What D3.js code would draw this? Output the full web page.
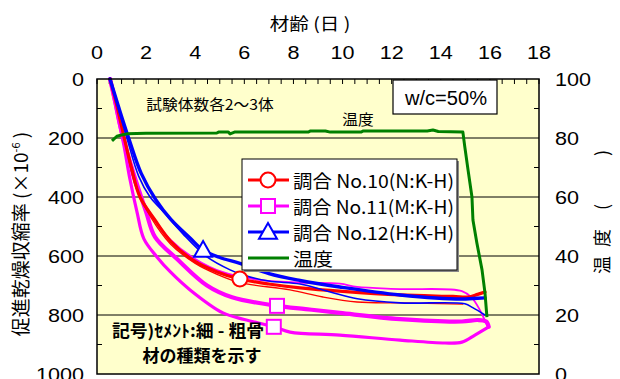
<!DOCTYPE html>
<html>
<head>
<meta charset="utf-8">
<script src="https://cdn.jsdelivr.net/npm/d3@7"></script>
<style>
  body { margin: 0; background: #fff; }
  text { font-family: "Liberation Sans", Arial, sans-serif; fill: #000; }
  .jp { font-family: "Noto Sans CJK JP", sans-serif; }
</style>
</head>
<body>
<svg id="chart" width="620" height="379"></svg>
<script>
// Axis ticks
const ageTicks = [0, 2, 4, 6, 8, 10, 12, 14, 16, 18];
const strainTicks = [0, 200, 400, 600, 800, 1000];
const tempTicks = [0, 20, 40, 60, 80, 100];

// Accelerated drying shrinkage, [age (days), strain (x10^-6)]
// Mix No.10 (N:K-H)
const mix10a = [[0.53,0],[0.75,70],[1.0,160],[1.4,300],[1.75,400],[2.36,478],[3.0,550],[3.91,614],[4.89,654],[5.82,678],[7.0,695],[8.27,708],[10.0,720],[12.34,732],[14.5,737],[15.11,739],[15.5,730],[15.8,722]];
const mix10b = [[0.53,0],[0.8,90],[1.1,200],[1.6,370],[2.2,470],[3.0,560],[4.0,625],[4.89,662],[5.82,690],[7.86,715],[9.2,739],[10.59,756],[12.34,759],[14.9,763]];
// Mix No.11 (M:K-H)
const mix11a = [[0.53,0],[0.8,100],[1.1,210],[1.6,370],[2.3,470],[3.0,545],[4.0,610],[5.13,655],[6.5,680],[8.27,690],[9.89,694],[10.59,705],[12.34,712],[14.86,719],[15.27,742],[15.59,783],[15.88,834]];
const mix11b = [[0.53,0],[0.75,80],[0.95,160],[1.2,240],[1.6,350],[2.0,450],[2.36,535],[3.26,610],[4.48,700],[5.5,740],[7.33,769],[8.5,780],[9.89,793],[12.34,814],[14.86,822],[15.5,817],[15.85,822],[15.95,840]];
const mix11c = [[0.53,0],[0.81,112],[1.1,227],[1.34,339],[1.63,451],[1.91,542],[2.44,603],[3.0,655],[3.79,715],[5.13,793],[6.0,815],[7.2,840],[7.86,858],[9.89,868],[12.34,885],[14.17,895],[14.86,892],[15.39,868],[15.8,848],[15.95,840]];
// Mix No.12 (H:K-H)
const mix12a = [[0.53,0],[0.9,100],[1.3,203],[1.8,320],[2.4,410],[3.0,475],[3.8,540],[4.32,580],[5.0,605],[5.82,625],[7.0,660],[8.27,683],[9.89,705],[12.34,732],[14.86,746],[15.3,744],[15.8,742]];
const mix12b = [[0.53,0],[0.9,110],[1.2,195],[1.7,330],[2.16,400],[2.65,445],[3.5,525],[4.48,603],[5.42,647],[5.94,664],[7.0,685],[8.27,695],[9.5,722],[10.6,745],[12.34,759],[14.98,762],[15.3,775],[15.8,800]];

// Curing temperature, [age (days), temperature]
const temperature = [[0.61,79.0],[0.81,80.6],[1.0,81.0],[1.22,81.4],[2.0,81.6],[4.88,81.7],[4.95,82.0],[5.35,82.0],[5.42,81.4],[5.6,82.0],[8.6,82.0],[8.7,82.4],[9.3,82.4],[9.5,82.0],[10.75,82.0],[10.85,82.4],[13.45,82.4],[13.68,82.7],[13.9,82.2],[14.9,82.0],[14.98,76.9],[15.11,69.2],[15.27,60.0],[15.31,52.2],[15.47,44.4],[15.68,35.3],[15.8,27.5],[15.88,19.3]];

// Marker positions, [age, strain]
const markers10 = [[5.82,678]];
const markers11 = [[7.33,769],[7.2,840]];
const markers12 = [[4.32,580]];

const svg = d3.select("#chart");
const L = 97, R = 539, T = 79, B = 374;

const x = d3.scaleLinear().domain([0, 18]).range([L, R]);
const y = d3.scaleLinear().domain([0, 1000]).range([T, B]);
const yT = d3.scaleLinear().domain([0, 100]).range([B, T]);

// Plot background
svg.append("rect").attr("x", L).attr("y", T).attr("width", R - L).attr("height", B - T)
  .attr("fill", "#ffffcc");

// Gridlines
svg.append("g").selectAll("line").data([200, 400, 600, 800]).join("line")
  .attr("x1", L).attr("x2", R).attr("y1", d => y(d)).attr("y2", d => y(d))
  .attr("stroke", "#000").attr("stroke-width", 1);

// Minor ticks (inside)
const topMinor = d3.range(0, 18.01, 0.5);
svg.append("g").selectAll("line").data(topMinor).join("line")
  .attr("x1", d => x(d)).attr("x2", d => x(d)).attr("y1", T).attr("y2", T + 5)
  .attr("stroke", "#000").attr("stroke-width", 1);
const leftMinor = d3.range(100, 1000, 200);
svg.append("g").selectAll("line").data(leftMinor).join("line")
  .attr("x1", L).attr("x2", L + 5).attr("y1", d => y(d)).attr("y2", d => y(d))
  .attr("stroke", "#000");
const rightMinor = d3.range(10, 100, 20);
svg.append("g").selectAll("line").data(rightMinor).join("line")
  .attr("x1", R - 5).attr("x2", R).attr("y1", d => yT(d)).attr("y2", d => yT(d))
  .attr("stroke", "#000");

// Horizontally stretched label helper
function label(parent, tx, ty, str, opts = {}) {
  const sx = opts.sx || 1.2;
  const t = parent.append("text")
    .attr("transform", `translate(${tx},${ty}) scale(${sx},1)`)
    .attr("text-anchor", opts.anchor || "middle")
    .attr("dominant-baseline", "central")
    .attr("font-size", opts.size || 18)
    .text(str);
  if (opts.cls) t.attr("class", opts.cls);
  if (opts.weight) t.attr("font-weight", opts.weight);
  return t;
}

// Tick labels
const gLab = svg.append("g");
ageTicks.forEach(d => label(gLab, x(d), 53, d));
strainTicks.forEach(d => label(gLab, 84, y(d) + 1, d, { anchor: "end" }));
tempTicks.forEach(d => label(gLab, 555, yT(d) + 1, d, { anchor: "start" }));

// Axis titles
label(svg, 310, 23, "材齢 (日 )", { cls: "jp", size: 17, sx: 1.15 });

const lt = svg.append("text").attr("class", "jp")
  .attr("transform", `translate(28,234) rotate(-90)`)
  .attr("text-anchor", "middle").attr("font-size", 19);
lt.append("tspan").text("促進乾燥収縮率 (×10");
lt.append("tspan").attr("font-size", 11).attr("dy", -8).text("-6");
lt.append("tspan").attr("dy", 8).text(" )");

const rt = svg.append("g");
[["温", 265], ["度", 238], ["(", 207], [")", 153]].forEach(([c, cy]) => {
  rt.append("text").attr("class", "jp")
    .attr("transform", `translate(601,${cy}) rotate(-90)`)
    .attr("text-anchor", "middle").attr("dominant-baseline", "central")
    .attr("font-size", 18).text(c);
});

// Curves
const line = d3.line().x(d => x(d[0])).y(d => y(d[1])).curve(d3.curveCatmullRom.alpha(0.5));
const lineT = d3.line().x(d => x(d[0])).y(d => yT(d[1]));

svg.append("clipPath").attr("id", "plot")
  .append("rect").attr("x", L).attr("y", T - 2).attr("width", R - L).attr("height", B - T + 2);
const plot = svg.append("g").attr("clip-path", "url(#plot)");

const MAG = "#ff00ff", RED = "#ff0000", BLUE = "#0000ff", GREEN = "#008000";
const series = [
  [mix11c, MAG, 3.2], [mix11b, MAG, 4.2], [mix11a, MAG, 1.8],
  [mix10b, RED, 1.3], [mix10a, RED, 3.2],
  [mix12b, BLUE, 1.6], [mix12a, BLUE, 3.4]
];
series.forEach(([data, color, w]) => {
  plot.append("path").attr("d", line(data)).attr("fill", "none")
    .attr("stroke", color).attr("stroke-width", w)
    .attr("stroke-linejoin", "round").attr("stroke-linecap", "round");
});
plot.append("path").attr("d", lineT(temperature)).attr("fill", "none")
  .attr("stroke", GREEN).attr("stroke-width", 3).attr("stroke-linejoin", "round");

// Markers
function circleM(g, cx, cy) {
  g.append("circle").attr("cx", cx).attr("cy", cy).attr("r", 7.5)
    .attr("fill", "#fff").attr("stroke", RED).attr("stroke-width", 2);
}
function squareM(g, cx, cy) {
  g.append("rect").attr("x", cx - 7).attr("y", cy - 7).attr("width", 14).attr("height", 14)
    .attr("fill", "#fff").attr("stroke", MAG).attr("stroke-width", 2);
}
function triM(g, cx, cy) {
  const s = 9;
  g.append("path").attr("d", `M${cx},${cy - s}L${cx + s},${cy + s * 0.75}L${cx - s},${cy + s * 0.75}Z`)
    .attr("fill", "#fff").attr("stroke", BLUE).attr("stroke-width", 2);
}
markers11.forEach(d => squareM(svg, x(d[0]), y(d[1])));
markers10.forEach(d => circleM(svg, x(d[0]), y(d[1])));
markers12.forEach(d => triM(svg, x(d[0]), y(d[1])));

// Plot frame
svg.append("rect").attr("x", L).attr("y", T).attr("width", R - L).attr("height", B - T)
  .attr("fill", "none").attr("stroke", "#000").attr("stroke-width", 1.5);

// Annotations
label(svg, 210, 103, "試験体数各2～3体", { cls: "jp", size: 15, sx: 1.05 });
label(svg, 358, 118, "温度", { cls: "jp", size: 15, sx: 1.05 });
label(svg, 188, 330, "記号)ｾﾒﾝﾄ:細 - 粗骨", { cls: "jp", size: 17, sx: 1.05, weight: 700 });
label(svg, 202, 354, "材の種類を示す", { cls: "jp", size: 17, sx: 1.0, weight: 700 });

// w/c box
svg.append("rect").attr("x", 393).attr("y", 80).attr("width", 104).attr("height", 34)
  .attr("fill", "#fff").attr("stroke", "#000").attr("stroke-width", 1.2);
svg.append("text").attr("x", 446).attr("y", 98).attr("text-anchor", "middle")
  .attr("dominant-baseline", "central").attr("font-size", 20)
  .attr("textLength", 82).attr("lengthAdjust", "spacingAndGlyphs").text("w/c=50%");

// Legend
const lg = svg.append("g");
lg.append("rect").attr("x", 244).attr("y", 161).attr("width", 215).attr("height", 111).attr("fill", "#888");
lg.append("rect").attr("x", 242).attr("y", 159).attr("width", 215).attr("height", 111)
  .attr("fill", "#fff").attr("stroke", "#000").attr("stroke-width", 1);
const legendItems = [
  ["調合 No.10(N:K-H)", RED, circleM],
  ["調合 No.11(M:K-H)", MAG, squareM],
  ["調合 No.12(H:K-H)", BLUE, triM],
  ["温度", GREEN, null]
];
legendItems.forEach(([name, color, mk], i) => {
  const cy = 180 + i * 26;
  lg.append("line").attr("x1", 248).attr("x2", 289).attr("y1", cy).attr("y2", cy)
    .attr("stroke", color).attr("stroke-width", 3);
  if (mk) mk(lg, 268, cy);
  const t = lg.append("text").attr("class", "jp").attr("x", 293).attr("y", cy)
    .attr("dominant-baseline", "central").attr("font-size", 18).text(name);
  t.attr("textLength", i < 3 ? 161 : 40).attr("lengthAdjust", "spacingAndGlyphs");
});
</script>
</body>
</html>
